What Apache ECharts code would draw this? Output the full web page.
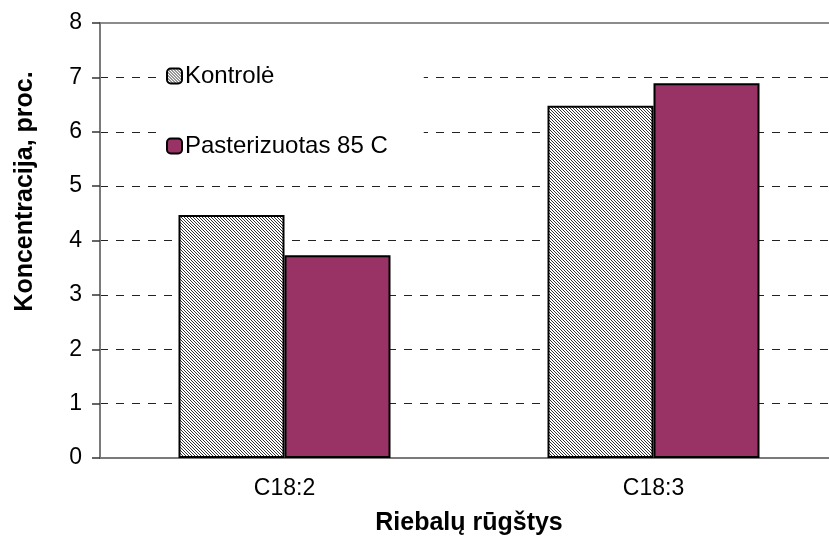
<!DOCTYPE html>
<html>
<head>
<meta charset="utf-8">
<script src="https://cdn.jsdelivr.net/npm/echarts@6/dist/echarts.min.js"></script>
<style>
    html, body { margin: 0; padding: 0; background: #fff; }
    #chart { width: 829px; height: 546px; }
</style>
</head>
<body>
<div id="chart"></div>
<script>
// data
const categories = ['C18:2', 'C18:3'];
const seriesNames = ['Kontrolė', 'Pasterizuotas 85 C'];
const kontrole = [4.47, 6.48];
const pasterizuotas = [3.73, 6.89];
const yTicks = [0, 1, 2, 3, 4, 5, 6, 7, 8];

// fine diagonal hatch like the excel fill
function hatch() {
    const c = document.createElement('canvas');
    c.width = 3;
    c.height = 3;
    const ctx = c.getContext('2d');
    ctx.fillStyle = '#ffffff';
    ctx.fillRect(0, 0, 3, 3);
    ctx.fillStyle = '#333333';
    for (let i = 0; i < 3; i++) {
        ctx.fillRect(i, i, 1, 1);
    }
    return { image: c, repeat: 'repeat' };
}

const font = '"Liberation Sans", Arial, sans-serif';
const chart = echarts.init(document.getElementById('chart'));

const options = {
    animation: false,
    textStyle: { fontFamily: font },
    grid: {
        left: 100,
        top: 23,
        width: 738,
        height: 435,
        outerBoundsMode: 'none',
        show: true,
        borderColor: '#8c8c8c',
        borderWidth: 2,
        backgroundColor: '#fff'
    },
    legend: {
        data: seriesNames,
        orient: 'vertical',
        left: 158,
        top: 50,
        padding: [14, 36, 14, 8],
        backgroundColor: '#fff',
        itemWidth: 15,
        itemHeight: 15,
        itemGap: 46,
        textStyle: {
            fontFamily: font,
            fontSize: 24,
            lineHeight: 24,
            color: '#000',
            padding: [0, 0, 0, -2]
        },
        itemStyle: { borderColor: '#000', borderWidth: 2 }
    },
    xAxis: {
        type: 'category',
        data: categories,
        name: 'Riebalų rūgštys',
        nameLocation: 'middle',
        nameGap: 53,
        nameTextStyle: {
            fontFamily: font,
            fontSize: 25,
            fontWeight: 'bold',
            color: '#000'
        },
        axisLine: { lineStyle: { color: '#7a7a7a', width: 2 } },
        axisTick: { length: 7, lineStyle: { color: '#000', width: 1.5 } },
        axisLabel: {
            margin: 19,
            fontFamily: font,
            fontSize: 23,
            color: '#000'
        }
    },
    yAxis: {
        type: 'value',
        min: yTicks[0],
        max: yTicks[yTicks.length - 1],
        interval: 1,
        name: 'Koncentracija, proc.',
        nameLocation: 'middle',
        nameGap: 62,
        nameTextStyle: {
            fontFamily: font,
            fontSize: 25,
            fontWeight: 'bold',
            color: '#000',
            padding: [0, 0, 0, 98]
        },
        axisLine: { show: true, lineStyle: { color: '#7a7a7a', width: 2 } },
        axisTick: { show: true, length: 8, lineStyle: { color: '#333', width: 1.5 } },
        axisLabel: {
            margin: 18,
            fontFamily: font,
            fontSize: 23,
            color: '#000'
        },
        splitLine: {
            show: true,
            showMinLine: false,
            showMaxLine: false,
            lineStyle: { color: '#222', type: [8, 8], width: 1 }
        }
    },
    series: [
        {
            name: seriesNames[0],
            type: 'bar',
            data: kontrole,
            barWidth: 106,
            barGap: '0%',
            itemStyle: { color: hatch(), borderColor: '#000', borderWidth: 2 }
        },
        {
            name: seriesNames[1],
            type: 'bar',
            data: pasterizuotas,
            barWidth: 106,
            barGap: '0%',
            itemStyle: { color: '#993366', borderColor: '#000', borderWidth: 2 }
        }
    ]
};
chart.setOption(options);
</script>
</body>
</html>
